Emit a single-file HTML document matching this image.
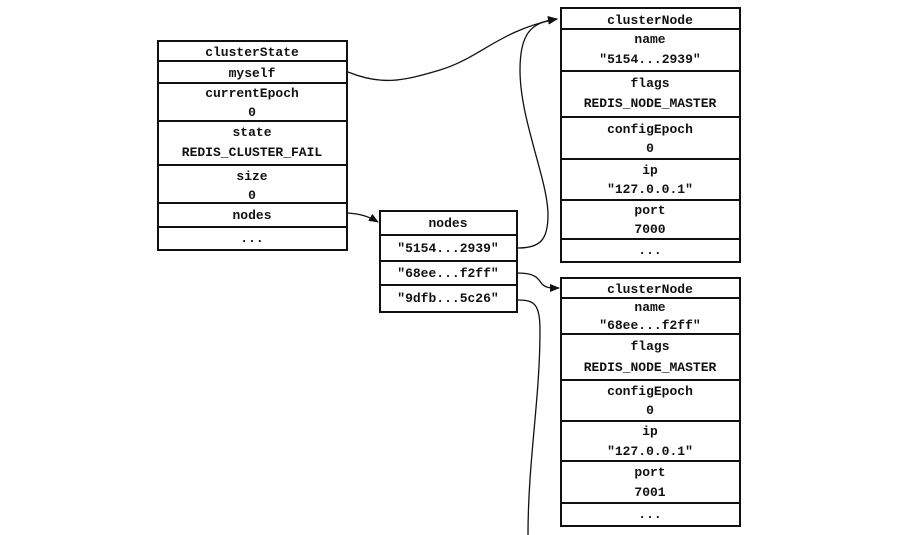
<!DOCTYPE html>
<html><head><meta charset="utf-8"><style>
html,body{margin:0;padding:0;background:#fff;width:902px;height:535px;overflow:hidden}
svg text{font-family:"Liberation Mono",monospace;font-size:13px;font-weight:bold;fill:#111;text-anchor:middle}
</style></head><body>
<svg width="902" height="535" viewBox="0 0 902 535" xmlns="http://www.w3.org/2000/svg">
<defs><marker id="a" markerWidth="10" markerHeight="8" refX="9" refY="4" orient="auto" markerUnits="userSpaceOnUse"><path d="M0,0 L10,4 L0,8 z" fill="#111"/></marker></defs>
<g fill="none" stroke="#111" stroke-width="2">
<rect x="158" y="41" width="189" height="209"/>
<path d="M158 61H347M158 83H347M158 121H347M158 165H347M158 203H347M158 227H347"/>
<rect x="380" y="211" width="137" height="101"/>
<path d="M380 235H517M380 261H517M380 285H517"/>
<rect x="561" y="8" width="179" height="254"/>
<path d="M561 29H740M561 71H740M561 117H740M561 159H740M561 200H740M561 239H740"/>
<rect x="561" y="278" width="179" height="248"/>
<path d="M561 298H740M561 334H740M561 380H740M561 421H740M561 461H740M561 503H740"/>
</g>
<g fill="none" stroke="#111" stroke-width="1.3">
<path d="M348 72 C380 85,400 82,440 70 S500 30,557 19" marker-end="url(#a)"/>
<path d="M348 213 C360 214,368 216,378 222" marker-end="url(#a)"/>
<path d="M518 248 C540 248,548 240,548 215 C548 180,520 120,520 70 C520 35,530 22,557 19" marker-end="url(#a)"/>
<path d="M518 273 C535 273,538 278,542 284 C546 288,550 288,559 288" marker-end="url(#a)"/>
<path d="M518 300 C535 300,540 305,540 330 C540 400,528 460,528 535"/>
</g>
<text x="252" y="56">clusterState</text>
<text x="252" y="77">myself</text>
<text x="252" y="97">currentEpoch</text><text x="252" y="116">0</text>
<text x="252" y="136">state</text><text x="252" y="156">REDIS_CLUSTER_FAIL</text>
<text x="252" y="180">size</text><text x="252" y="199">0</text>
<text x="252" y="219">nodes</text>
<text x="252" y="242">...</text>
<text x="448" y="227">nodes</text>
<text x="448" y="252">"5154...2939"</text>
<text x="448" y="277">"68ee...f2ff"</text>
<text x="448" y="302">"9dfb...5c26"</text>
<text x="650" y="24">clusterNode</text>
<text x="650" y="43">name</text><text x="650" y="63">"5154...2939"</text>
<text x="650" y="87">flags</text><text x="650" y="107">REDIS_NODE_MASTER</text>
<text x="650" y="133">configEpoch</text><text x="650" y="152">0</text>
<text x="650" y="174">ip</text><text x="650" y="193">"127.0.0.1"</text>
<text x="650" y="214">port</text><text x="650" y="233">7000</text>
<text x="650" y="254">...</text>
<text x="650" y="293">clusterNode</text>
<text x="650" y="311">name</text><text x="650" y="329">"68ee...f2ff"</text>
<text x="650" y="350">flags</text><text x="650" y="371">REDIS_NODE_MASTER</text>
<text x="650" y="395">configEpoch</text><text x="650" y="414">0</text>
<text x="650" y="435">ip</text><text x="650" y="455">"127.0.0.1"</text>
<text x="650" y="476">port</text><text x="650" y="496">7001</text>
<text x="650" y="518">...</text>
</svg>
</body></html>
